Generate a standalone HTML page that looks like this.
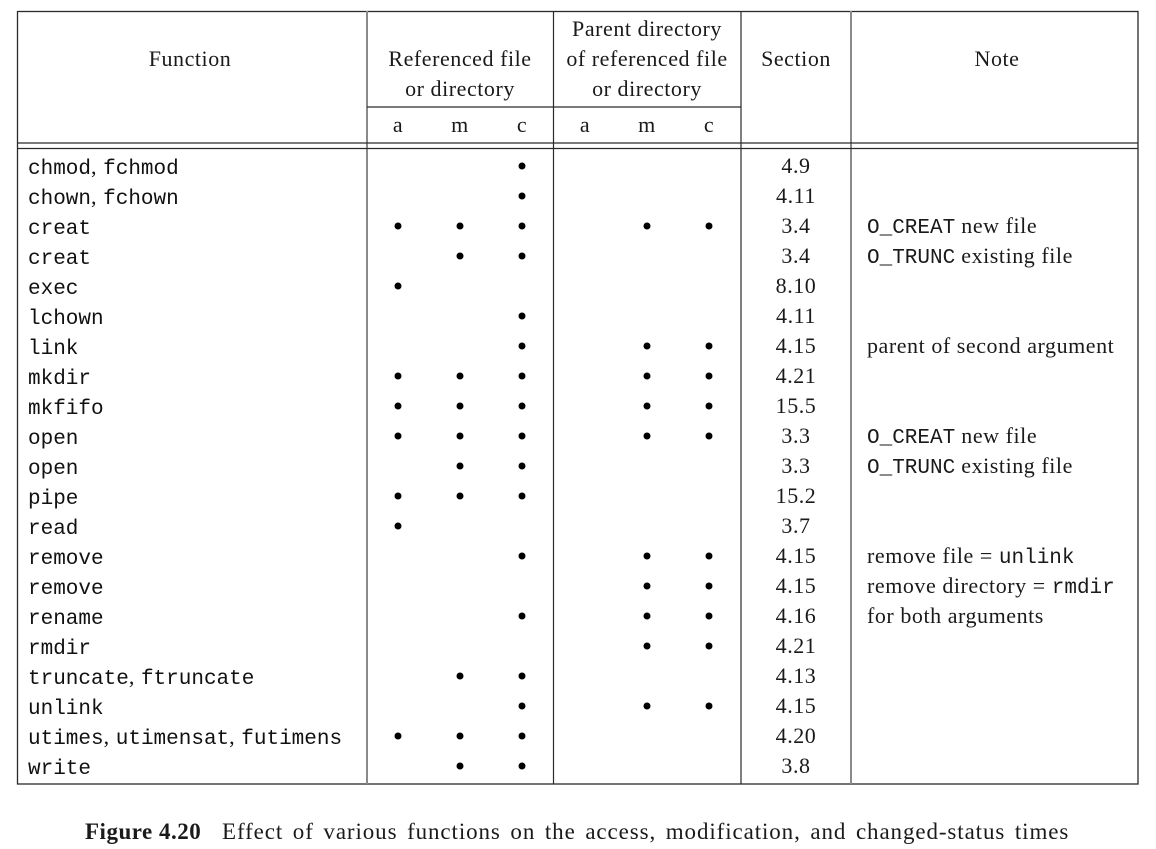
<!DOCTYPE html>
<html>
<head>
<meta charset="utf-8">
<style>
html,body{margin:0;padding:0;background:#fff;}
svg{display:block;}
text{white-space:pre;}
.s{font-family:"Liberation Serif",serif;font-size:22px;fill:#1a1a1a;letter-spacing:0.55px;}
.m{font-family:"Liberation Mono",monospace;font-size:21px;fill:#111;letter-spacing:0px;}
.ms{font-family:"Liberation Mono",monospace;font-size:21px;}
.sc{font-family:"Liberation Serif",serif;font-size:22px;letter-spacing:0.55px;}
</style>
</head>
<body>
<svg width="1156" height="849" viewBox="0 0 1156 849" xmlns="http://www.w3.org/2000/svg">
<!-- outer frame -->
<rect x="17.5" y="11.5" width="1120.5" height="772.5" fill="none" stroke="#2a2a2a" stroke-width="1.3"/>
<!-- vertical lines -->
<line x1="367" y1="11" x2="367" y2="784" stroke="#8a8a8a" stroke-width="2"/>
<line x1="553.5" y1="11" x2="553.5" y2="784" stroke="#2a2a2a" stroke-width="1.2"/>
<line x1="741" y1="11" x2="741" y2="784" stroke="#2a2a2a" stroke-width="1.2"/>
<line x1="851" y1="11" x2="851" y2="784" stroke="#8a8a8a" stroke-width="2"/>
<!-- sub header line -->
<line x1="367" y1="107" x2="741" y2="107" stroke="#2a2a2a" stroke-width="1.2"/>
<!-- double line -->
<line x1="17" y1="143" x2="1138" y2="143" stroke="#2a2a2a" stroke-width="1.2"/>
<line x1="17" y1="148.5" x2="1138" y2="148.5" stroke="#2a2a2a" stroke-width="1.2"/>

<!-- headers -->
<text class="s" x="190" y="66" text-anchor="middle">Function</text>
<text class="s" x="460" y="66" text-anchor="middle">Referenced file</text>
<text class="s" x="460" y="96" text-anchor="middle">or directory</text>
<text class="s" x="647" y="36" text-anchor="middle">Parent directory</text>
<text class="s" x="647" y="66" text-anchor="middle">of referenced file</text>
<text class="s" x="647" y="96" text-anchor="middle">or directory</text>
<text class="s" x="796" y="66" text-anchor="middle">Section</text>
<text class="s" x="997" y="66" text-anchor="middle">Note</text>
<text class="s" x="398" y="132" text-anchor="middle">a</text>
<text class="s" x="460" y="132" text-anchor="middle">m</text>
<text class="s" x="522" y="132" text-anchor="middle">c</text>
<text class="s" x="585" y="132" text-anchor="middle">a</text>
<text class="s" x="647" y="132" text-anchor="middle">m</text>
<text class="s" x="709" y="132" text-anchor="middle">c</text>

<!-- function names -->
<text class="m" x="28" y="174">chmod<tspan class="sc">, </tspan>fchmod</text>
<text class="m" x="28" y="204">chown<tspan class="sc">, </tspan>fchown</text>
<text class="m" x="28" y="234">creat</text>
<text class="m" x="28" y="264">creat</text>
<text class="m" x="28" y="294">exec</text>
<text class="m" x="28" y="324">lchown</text>
<text class="m" x="28" y="354">link</text>
<text class="m" x="28" y="384">mkdir</text>
<text class="m" x="28" y="414">mkfifo</text>
<text class="m" x="28" y="444">open</text>
<text class="m" x="28" y="474">open</text>
<text class="m" x="28" y="504">pipe</text>
<text class="m" x="28" y="534">read</text>
<text class="m" x="28" y="564">remove</text>
<text class="m" x="28" y="594">remove</text>
<text class="m" x="28" y="624">rename</text>
<text class="m" x="28" y="654">rmdir</text>
<text class="m" x="28" y="684">truncate<tspan class="sc">, </tspan>ftruncate</text>
<text class="m" x="28" y="714">unlink</text>
<text class="m" x="28" y="744">utimes<tspan class="sc">, </tspan>utimensat<tspan class="sc">, </tspan>futimens</text>
<text class="m" x="28" y="774">write</text>

<!-- sections -->
<text class="s" x="796" y="173" text-anchor="middle">4.9</text>
<text class="s" x="796" y="203" text-anchor="middle">4.11</text>
<text class="s" x="796" y="233" text-anchor="middle">3.4</text>
<text class="s" x="796" y="263" text-anchor="middle">3.4</text>
<text class="s" x="796" y="293" text-anchor="middle">8.10</text>
<text class="s" x="796" y="323" text-anchor="middle">4.11</text>
<text class="s" x="796" y="353" text-anchor="middle">4.15</text>
<text class="s" x="796" y="383" text-anchor="middle">4.21</text>
<text class="s" x="796" y="413" text-anchor="middle">15.5</text>
<text class="s" x="796" y="443" text-anchor="middle">3.3</text>
<text class="s" x="796" y="473" text-anchor="middle">3.3</text>
<text class="s" x="796" y="503" text-anchor="middle">15.2</text>
<text class="s" x="796" y="533" text-anchor="middle">3.7</text>
<text class="s" x="796" y="563" text-anchor="middle">4.15</text>
<text class="s" x="796" y="593" text-anchor="middle">4.15</text>
<text class="s" x="796" y="623" text-anchor="middle">4.16</text>
<text class="s" x="796" y="653" text-anchor="middle">4.21</text>
<text class="s" x="796" y="683" text-anchor="middle">4.13</text>
<text class="s" x="796" y="713" text-anchor="middle">4.15</text>
<text class="s" x="796" y="743" text-anchor="middle">4.20</text>
<text class="s" x="796" y="773" text-anchor="middle">3.8</text>

<!-- notes -->
<text class="s" x="867" y="233"><tspan class="ms" style="letter-spacing:0">O_CREAT</tspan> new file</text>
<text class="s" x="867" y="263"><tspan class="ms" style="letter-spacing:0">O_TRUNC</tspan> existing file</text>
<text class="s" x="867" y="353">parent of second argument</text>
<text class="s" x="867" y="443"><tspan class="ms" style="letter-spacing:0">O_CREAT</tspan> new file</text>
<text class="s" x="867" y="473"><tspan class="ms" style="letter-spacing:0">O_TRUNC</tspan> existing file</text>
<text class="s" x="867" y="563">remove file = <tspan class="ms" style="letter-spacing:0">unlink</tspan></text>
<text class="s" x="867" y="593">remove directory = <tspan class="ms" style="letter-spacing:0">rmdir</tspan></text>
<text class="s" x="867" y="623">for both arguments</text>

<!-- dots -->
<g fill="#000">
<circle cx="522" cy="166" r="3.5"/>
<circle cx="522" cy="196" r="3.5"/>
<circle cx="398" cy="226" r="3.5"/><circle cx="460" cy="226" r="3.5"/><circle cx="522" cy="226" r="3.5"/>
<circle cx="647" cy="226" r="3.5"/><circle cx="709" cy="226" r="3.5"/>
<circle cx="460" cy="256" r="3.5"/><circle cx="522" cy="256" r="3.5"/>
<circle cx="398" cy="286" r="3.5"/>
<circle cx="522" cy="316" r="3.5"/>
<circle cx="522" cy="346" r="3.5"/><circle cx="647" cy="346" r="3.5"/><circle cx="709" cy="346" r="3.5"/>
<circle cx="398" cy="376" r="3.5"/><circle cx="460" cy="376" r="3.5"/><circle cx="522" cy="376" r="3.5"/>
<circle cx="647" cy="376" r="3.5"/><circle cx="709" cy="376" r="3.5"/>
<circle cx="398" cy="406" r="3.5"/><circle cx="460" cy="406" r="3.5"/><circle cx="522" cy="406" r="3.5"/>
<circle cx="647" cy="406" r="3.5"/><circle cx="709" cy="406" r="3.5"/>
<circle cx="398" cy="436" r="3.5"/><circle cx="460" cy="436" r="3.5"/><circle cx="522" cy="436" r="3.5"/>
<circle cx="647" cy="436" r="3.5"/><circle cx="709" cy="436" r="3.5"/>
<circle cx="460" cy="466" r="3.5"/><circle cx="522" cy="466" r="3.5"/>
<circle cx="398" cy="496" r="3.5"/><circle cx="460" cy="496" r="3.5"/><circle cx="522" cy="496" r="3.5"/>
<circle cx="398" cy="526" r="3.5"/>
<circle cx="522" cy="556" r="3.5"/><circle cx="647" cy="556" r="3.5"/><circle cx="709" cy="556" r="3.5"/>
<circle cx="647" cy="586" r="3.5"/><circle cx="709" cy="586" r="3.5"/>
<circle cx="522" cy="616" r="3.5"/><circle cx="647" cy="616" r="3.5"/><circle cx="709" cy="616" r="3.5"/>
<circle cx="647" cy="646" r="3.5"/><circle cx="709" cy="646" r="3.5"/>
<circle cx="460" cy="676" r="3.5"/><circle cx="522" cy="676" r="3.5"/>
<circle cx="522" cy="706" r="3.5"/><circle cx="647" cy="706" r="3.5"/><circle cx="709" cy="706" r="3.5"/>
<circle cx="398" cy="736" r="3.5"/><circle cx="460" cy="736" r="3.5"/><circle cx="522" cy="736" r="3.5"/>
<circle cx="460" cy="766" r="3.5"/><circle cx="522" cy="766" r="3.5"/>
</g>

<!-- caption -->
<text x="85" y="839" style="font-family:'Liberation Serif',serif;font-size:23px;font-weight:bold;fill:#1a1a1a;letter-spacing:0.5px">Figure 4.20</text>
<text x="222" y="839" style="font-family:'Liberation Serif',serif;font-size:23px;fill:#1a1a1a;letter-spacing:0.9px;word-spacing:3px">Effect of various functions on the access, modification, and changed-status times</text>
</svg>
</body>
</html>
